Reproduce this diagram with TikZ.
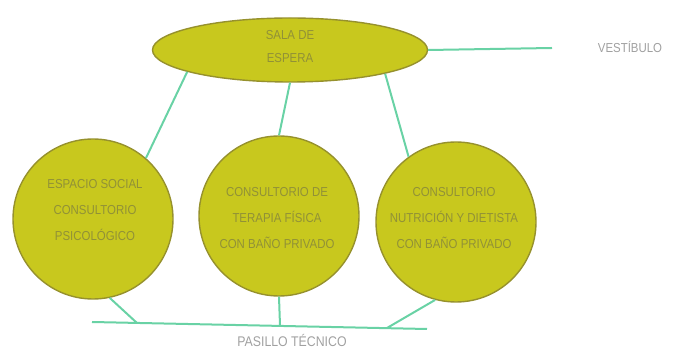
\documentclass[tikz,border=0pt]{standalone}
\usepackage{fontspec}
\setmainfont[FakeStretch=0.88]{Liberation Sans}
\usetikzlibrary{shapes.geometric}
\definecolor{fillyel}{RGB}{200,200,30}
\definecolor{rimol}{RGB}{150,145,45}
\definecolor{linkgr}{RGB}{105,210,165}
\definecolor{txtol}{RGB}{145,145,55}
\definecolor{txtgr}{RGB}{160,160,160}
\tikzset{
  room/.style={circle, draw=rimol, line width=1.4pt, fill=fillyel, minimum size=160pt, inner sep=0pt},
  roomtext/.style={text=txtol, font=\fontsize{13}{26}\selectfont, align=center, inner sep=0pt},
  hall/.style={ellipse, draw=rimol, line width=1.4pt, fill=fillyel, minimum width=275pt, minimum height=64pt, inner sep=0pt},
  halltext/.style={text=txtol, font=\fontsize{13}{23}\selectfont, align=center, inner sep=0pt},
  link/.style={draw=linkgr, line width=2pt},
  lbl/.style={text=txtgr, font=\fontsize{13}{14}\selectfont, inner sep=1pt}
}
\begin{document}
\begin{tikzpicture}[x=1pt,y=-1pt]
\useasboundingbox (0,0) rectangle (678,352);
% nodes
\node[hall] (sala) at (290,50) {};
\node[halltext] (salat) at (290,47) {SALA DE\\ESPERA};
\node[room] (psi) at (93,219) {};
\node[roomtext] (psit) at (95,210) {ESPACIO SOCIAL\\CONSULTORIO\\PSICOLÓGICO};
\node[room] (ter) at (279,216) {};
\node[roomtext] (tert) at (277,218) {CONSULTORIO DE\\TERAPIA FÍSICA\\CON BAÑO PRIVADO};
\node[room] (nut) at (456,222) {};
\node[roomtext] (nutt) at (454,218) {CONSULTORIO\\NUTRICIÓN Y DIETISTA\\CON BAÑO PRIVADO};
\node[lbl] (vest) at (630,47) {VESTÍBULO};
\node[lbl, font=\fontsize{14}{15}\selectfont] (pas) at (292,340) {PASILLO TÉCNICO};
% coordinates
\coordinate (vend) at (552,48);
\coordinate (pl) at (92,322);
\coordinate (pr) at (427,329);
\coordinate (b1) at (137,323);
\coordinate (b2) at (280,325.5);
\coordinate (b3) at (387,328);
% connectors
\draw[link] (sala.east) -- (vend);
\draw[link] (sala.192) -- (psi.49);
\draw[link] (sala.south) -- (ter.north);
\draw[link] (sala.-14) -- (nut.126);
\draw[link] (pl) -- (pr);
\draw[link] (psi.-78) -- (b1);
\draw[link] (ter.south) -- (b2);
\draw[link] (nut.-105) -- (b3);
\end{tikzpicture}
\end{document}
